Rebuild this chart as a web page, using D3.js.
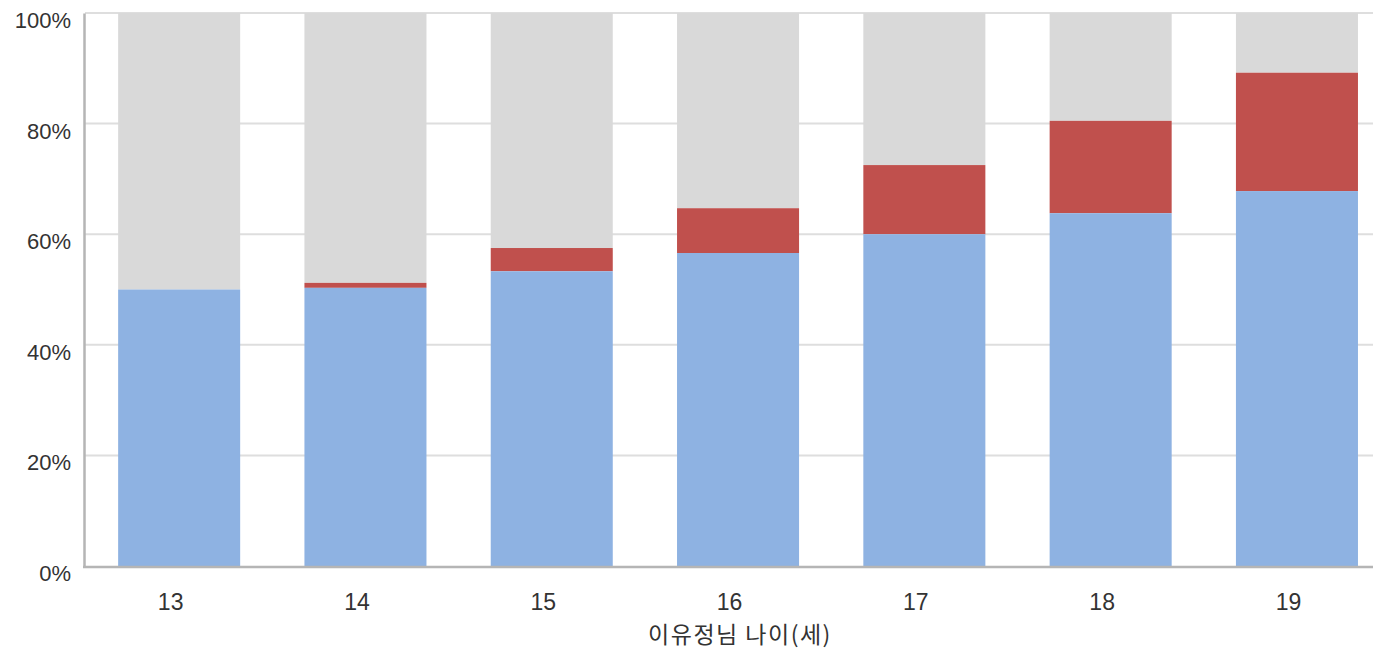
<!DOCTYPE html>
<html><head><meta charset="utf-8">
<script src="https://cdn.jsdelivr.net/npm/d3@7"></script>
<style>body{margin:0;background:#fff;}svg{display:block;font-family:"Liberation Sans",Arial,sans-serif;}</style>
</head><body><svg id="c" width="1373" height="651"></svg>
<script>
const categories = ["13","14","15","16","17","18","19"];
const blueValues = [50.0, 50.3, 53.3, 56.6, 60.0, 63.8, 67.8];
const redValues  = [0.0, 0.9, 4.2, 8.1, 12.5, 16.7, 21.4];
const yTicks = [0, 20, 40, 60, 80, 100];
const xTitle = "이유정님 나이(세)";
const colors = {blue:"#8EB2E2", red:"#C0504D", grey:"#D9D9D9"};

const svg = d3.select("#c");
const plotLeft = 85, plotTop = 13, plotBottom = 566, step = 186.3;
const x = d3.scaleBand().domain(categories).range([plotLeft + 1, plotLeft + 1 + step*categories.length]).paddingInner(0.345).paddingOuter(0.345/2);
const y = d3.scaleLinear().domain([0,100]).range([plotBottom, plotTop]);

// gridlines
svg.append("g").selectAll("line").data(yTicks.filter(d=>d>0)).join("line")
  .attr("x1", plotLeft).attr("x2", 1373).attr("y1", d=>y(d)).attr("y2", d=>y(d))
  .attr("stroke", "#dedede").attr("stroke-width", 2);

const data = categories.map((c,i)=>({c, b:blueValues[i], r:redValues[i]}));
const g = svg.append("g");
g.selectAll(".grey").data(data).join("rect").attr("class","grey")
  .attr("x", d=>x(d.c)).attr("width", x.bandwidth())
  .attr("y", y(100)).attr("height", d=>y(d.b+d.r)-y(100)).attr("fill", colors.grey);
g.selectAll(".red").data(data).join("rect").attr("class","red")
  .attr("x", d=>x(d.c)).attr("width", x.bandwidth())
  .attr("y", d=>y(d.b+d.r)).attr("height", d=>y(d.b)-y(d.b+d.r)).attr("fill", colors.red);
g.selectAll(".blue").data(data).join("rect").attr("class","blue")
  .attr("x", d=>x(d.c)).attr("width", x.bandwidth())
  .attr("y", d=>y(d.b)).attr("height", d=>y(0)-y(d.b)).attr("fill", colors.blue);

// axes
const yAxis = svg.append("g").attr("transform", `translate(${plotLeft-1},0)`)
  .call(d3.axisLeft(y).tickValues(yTicks).tickFormat(d=>d+"%").tickSize(0).tickPadding(13));
yAxis.select(".domain").attr("stroke", "#b5b5b5").attr("stroke-width", 2.5);
yAxis.selectAll("text").attr("font-size", 22).attr("fill", "#333").attr("dy", "0.66em");

const xAxis = svg.append("g").attr("transform", `translate(0,${plotBottom+1})`)
  .call(d3.axisBottom(x).tickSize(0).tickPadding(0));
xAxis.select(".domain").attr("d", `M${plotLeft-2},0H1373`).attr("stroke", "#b5b5b5").attr("stroke-width", 2.5);
xAxis.selectAll("text").attr("font-size", 23).attr("fill", "#333")
  .attr("dy", null).attr("y", 43).attr("dx", -8.5);

svg.append("text").attr("x", 740).attr("y", 643).attr("text-anchor","middle")
  .attr("font-family", "'Noto Sans CJK KR', sans-serif")
  .attr("font-size", 23).attr("letter-spacing", 1.5).attr("fill", "#333").text(xTitle);
</script></body></html>
